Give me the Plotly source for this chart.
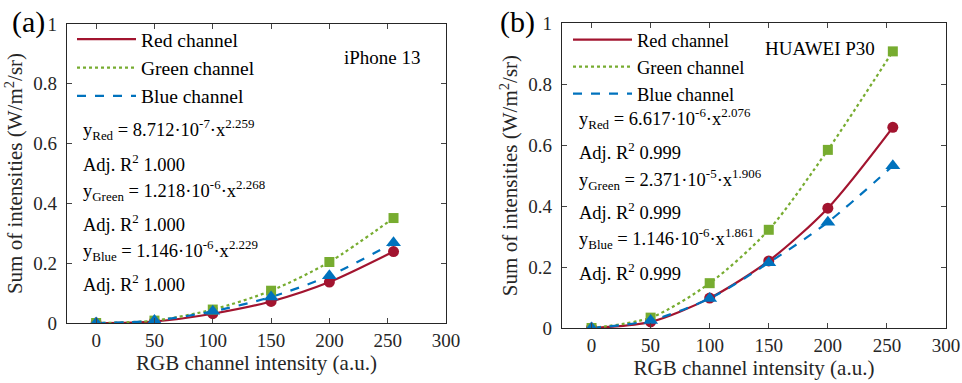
import plotly.graph_objects as go

x_vals = [0, 50, 100, 150, 200, 255]

# Panel (a) iPhone 13
a_red = [0.0, 0.005, 0.031, 0.072, 0.137, 0.239]
a_green = [0.0, 0.008, 0.045, 0.108, 0.204, 0.351]
a_blue = [0.0, 0.008, 0.039, 0.087, 0.158, 0.268]

# Panel (b) HUAWEI P30
b_red = [0.0, 0.020, 0.098, 0.220, 0.393, 0.658]
b_green = [0.0, 0.034, 0.147, 0.322, 0.584, 0.907]
b_blue = [0.0, 0.025, 0.097, 0.214, 0.347, 0.532]

names = ["Red channel", "Green channel", "Blue channel"]
colors = ["#A2142F", "#77AC30", "#0072BD"]
dashes = ["solid", "dot", "dash"]
symbols = ["circle", "square", "triangle-up"]
msizes = [11, 10, 13]

eq_a = ["y<sub>Red</sub> = 8.712·10<sup>-7</sup>·x<sup>2.259</sup>", "Adj. R<sup>2</sup> 1.000",
        "y<sub>Green</sub> = 1.218·10<sup>-6</sup>·x<sup>2.268</sup>", "Adj. R<sup>2</sup> 1.000",
        "y<sub>Blue</sub> = 1.146·10<sup>-6</sup>·x<sup>2.229</sup>", "Adj. R<sup>2</sup> 1.000"]
eq_b = ["y<sub>Red</sub> = 6.617·10<sup>-6</sup>·x<sup>2.076</sup>", "Adj. R<sup>2</sup> 0.999",
        "y<sub>Green</sub> = 2.371·10<sup>-5</sup>·x<sup>1.906</sup>", "Adj. R<sup>2</sup> 0.999",
        "y<sub>Blue</sub> = 1.146·10<sup>-6</sup>·x<sup>1.861</sup>", "Adj. R<sup>2</sup> 0.999"]

FONT = "Liberation Serif"
W, H = 962, 383

fig = go.Figure()

panels = [
    ("x", "y", "legend", [a_red, a_green, a_blue]),
    ("x2", "y2", "legend2", [b_red, b_green, b_blue]),
]
for xa, ya, lg, series in panels:
    for i, ys in enumerate(series):
        fig.add_trace(go.Scatter(x=x_vals, y=ys, mode="lines", name=names[i],
                                 line=dict(color=colors[i], width=2.2, dash=dashes[i], shape="spline", smoothing=0.8),
                                 xaxis=xa, yaxis=ya, legend=lg, showlegend=True))
    for i, ys in enumerate(series):
        fig.add_trace(go.Scatter(x=x_vals, y=ys, mode="markers", name=names[i],
                                 marker=dict(color=colors[i], symbol=symbols[i], size=msizes[i], line=dict(width=0)),
                                 xaxis=xa, yaxis=ya, showlegend=False))

ax_common = dict(range=[-25, 300], tickvals=[0, 50, 100, 150, 200, 250, 300],
                 ticks="inside", ticklen=5, mirror="ticks", showline=True, linecolor="#262626",
                 linewidth=1.3, showgrid=False, zeroline=False, automargin=False,
                 tickfont=dict(family=FONT, size=19, color="#262626"),
                 title=dict(text="RGB channel intensity (a.u.)", font=dict(family=FONT, size=21, color="#262626"), standoff=2))
ay_common = dict(range=[0, 1], tickvals=[0, 0.2, 0.4, 0.6, 0.8, 1], ticktext=["0", "0.2", "0.4", "0.6", "0.8", "1"],
                 ticks="inside", ticklen=5, mirror="ticks", showline=True, linecolor="#262626",
                 linewidth=1.3, showgrid=False, zeroline=False, automargin=False, ticklabelstandoff=5,
                 tickfont=dict(family=FONT, size=19, color="#262626"),
                 title=dict(text="Sum of intensities (W/m<sup>2</sup>/sr)", font=dict(family=FONT, size=21, color="#262626"), standoff=4))

fig.update_layout(
    width=W, height=H, margin=dict(l=0, r=0, t=0, b=0),
    plot_bgcolor="white", paper_bgcolor="white",
    xaxis=dict(domain=[67 / W, 446 / W], anchor="y", **ax_common),
    yaxis=dict(domain=[1 - 323 / H, 1 - 24 / H], anchor="x", **ay_common),
    xaxis2=dict(domain=[562 / W, 946 / W], anchor="y2", **ax_common),
    yaxis2=dict(domain=[1 - 328 / H, 1 - 23 / H], anchor="x2", **ay_common),
    legend=dict(x=72 / W, y=1 - 20 / H, xanchor="left", yanchor="top", bgcolor="rgba(0,0,0,0)",
                font=dict(family=FONT, size=19.5, color="black"), tracegroupgap=0, itemwidth=59),
    legend2=dict(x=568 / W, y=1 - 21 / H, xanchor="left", yanchor="top", bgcolor="rgba(0,0,0,0)",
                 font=dict(family=FONT, size=18.5, color="black"), tracegroupgap=0, itemwidth=59),
    showlegend=True,
)

ann = []
ys_a = [130, 163, 190, 223, 250, 283]
for t, yy in zip(eq_a, ys_a):
    ann.append(dict(x=81 / W, y=1 - yy / H, xref="paper", yref="paper", text=t, showarrow=False,
                    xanchor="left", yanchor="middle", font=dict(family=FONT, size=18.5, color="black")))
ys_b = [118, 151, 179, 211, 238, 272]
for t, yy in zip(eq_b, ys_b):
    ann.append(dict(x=577 / W, y=1 - yy / H, xref="paper", yref="paper", text=t, showarrow=False,
                    xanchor="left", yanchor="middle", font=dict(family=FONT, size=18.5, color="black")))
ann.append(dict(x=382 / W, y=1 - 58 / H, xref="paper", yref="paper", text="iPhone 13", showarrow=False,
                xanchor="center", yanchor="middle", font=dict(family=FONT, size=19, color="black")))
ann.append(dict(x=820 / W, y=1 - 49 / H, xref="paper", yref="paper", text="HUAWEI P30", showarrow=False,
                xanchor="center", yanchor="middle", font=dict(family=FONT, size=19, color="black")))
ann.append(dict(x=28 / W, y=1 - 22 / H, xref="paper", yref="paper", text="(a)", showarrow=False,
                xanchor="center", yanchor="middle", font=dict(family=FONT, size=30, color="black")))
ann.append(dict(x=517 / W, y=1 - 22 / H, xref="paper", yref="paper", text="(b)", showarrow=False,
                xanchor="center", yanchor="middle", font=dict(family=FONT, size=30, color="black")))
fig.update_layout(annotations=ann)

fig.write_html("out.html", config={"displayModeBar": False},
               post_script="document.body.style.margin='0';")
